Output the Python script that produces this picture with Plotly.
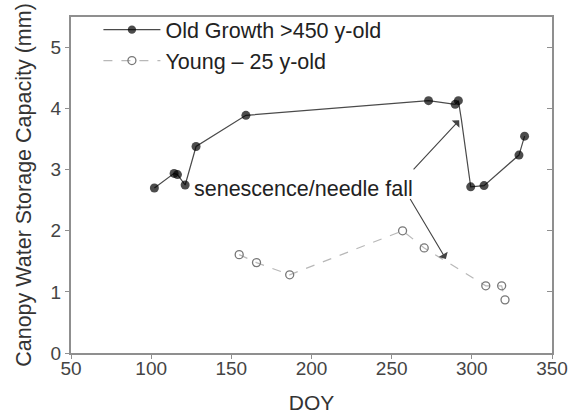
import plotly.graph_objects as go

# Old growth (>450 y-old) stand
og_doy = [102, 114.3, 116.4, 121.2, 128, 159.1, 273, 289.6, 291.6, 293.5, 299.3, 307.6, 329.4, 332.9]
og_cap = [2.70, 2.94, 2.92, 2.75, 3.38, 3.89, 4.13, 4.07, 4.13, 3.82, 2.72, 2.74, 3.24, 3.55]
og_hidden_marker = [293.5]

# Young (25 y-old) stand
yg_doy = [154.9, 165.7, 186.4, 256.8, 270.3, 308.7, 318.6, 320.7]
yg_cap = [1.61, 1.48, 1.28, 2.00, 1.72, 1.10, 1.10, 0.87]

x_ticks = [50, 100, 150, 200, 250, 300, 350]
y_ticks = [0, 1, 2, 3, 4, 5]

note_text = "senescence/needle fall"
note_pos = (125.3, 2.69)
arrow_tails = [(262.8, 2.98), (261.0, 2.545)]
arrow_heads = [(292.1, 3.81), (283.8, 1.54)]

FONT = "Liberation Sans, Arial, sans-serif"
AX = "#8f8f8f"

og_sizes = [0 if d in og_hidden_marker else 9 for d in og_doy]

fig = go.Figure()
fig.add_trace(go.Scatter(
    x=og_doy, y=og_cap, mode="lines+markers", name="Old Growth >450 y-old",
    line=dict(color="#4a4a4a", width=1.2),
    marker=dict(color="black", size=og_sizes, line=dict(width=0)),
))
fig.add_trace(go.Scatter(
    x=yg_doy, y=yg_cap, mode="lines+markers", name="Young \u2013 25 y-old",
    line=dict(color="#b8b8b8", width=1.2, dash="dash"),
    marker=dict(symbol="circle-open", color="#777777", size=8, line=dict(width=1.3)),
))
fig.add_trace(go.Scatter(x=[], y=[], yaxis="y2", showlegend=False, hoverinfo="skip"))

fig.add_annotation(x=note_pos[0], y=note_pos[1], text=note_text, showarrow=False,
                   xanchor="left", yanchor="middle",
                   font=dict(family=FONT, size=21.5, color="#222222"))
for (tx, ty), (hx, hy) in zip(arrow_tails, arrow_heads):
    fig.add_annotation(x=hx, y=hy, ax=tx, ay=ty, axref="x", ayref="y",
                       xref="x", yref="y", text="", showarrow=True,
                       arrowhead=1, arrowsize=1.6, arrowwidth=1.1, arrowcolor="#444444")

fig.update_layout(
    width=570, height=416,
    margin=dict(l=71, r=18, t=17, b=63, autoexpand=False),
    paper_bgcolor="white", plot_bgcolor="white",
    font=dict(family=FONT, size=19, color="#333333"),
    showlegend=True,
    legend=dict(x=0.057, y=0.978, xref="paper", yref="container",
                xanchor="left", yanchor="top",
                bgcolor="rgba(0,0,0,0)", font=dict(size=21.5, color="#222222"),
                itemwidth=57, tracegroupgap=0),
    xaxis=dict(range=[50, 350], tickvals=x_ticks, ticks="outside", ticklen=4,
               tickcolor=AX, linecolor=AX, linewidth=2, mirror=True,
               showgrid=False, zeroline=False, ticklabelstandoff=-7, automargin=False,
               tickfont=dict(size=19, color="#444444"),
               title=dict(text="DOY", font=dict(size=21, color="#333333"), standoff=18)),
    yaxis=dict(range=[0, 5.5], tickvals=y_ticks, ticks="outside", ticklen=4,
               tickcolor=AX, linecolor=AX, linewidth=2, mirror=True,
               showgrid=False, zeroline=False, automargin=False,
               tickfont=dict(size=19, color="#444444"),
               title=dict(text="Canopy Water Storage Capacity (mm)",
                          font=dict(size=21.5, color="#333333"), standoff=13)),
    yaxis2=dict(overlaying="y", matches="y", side="right", tickvals=y_ticks,
                ticks="inside", ticklen=5, tickcolor=AX, showticklabels=False,
                showgrid=False, zeroline=False, showline=False, automargin=False),
)

fig.write_html("out.html", config={"displayModeBar": False},
               post_script="document.body.style.margin='0';")
